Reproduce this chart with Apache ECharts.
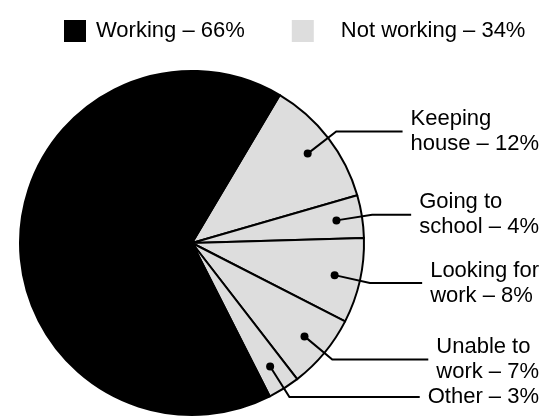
<!DOCTYPE html>
<html>
<head>
<meta charset="utf-8">
<script src="https://cdn.jsdelivr.net/npm/echarts@6/dist/echarts.min.js"></script>
<style>
html, body { margin: 0; padding: 0; background: #fff; }
#main { width: 549px; height: 417px; }
</style>
</head>
<body>
<div id="main"></div>
<script>
var groupNames = ['Working – 66%', 'Not working – 34%'];
var groupValues = [66, 34];
var partNames = ['Keeping\nhouse – 12%', 'Going to\nschool – 4%', 'Looking for\nwork – 8%', 'Unable to\nwork – 7%', 'Other – 3%'];
var partValues = [12, 4, 8, 7, 3];

var BLACK = '#000000';
var GREY = '#dddddd';
var FONT = '"Liberation Sans", Arial, sans-serif';
var FONT_SIZE = 22;
var CX = 192, CY = 243, R = 172;
var START = 59.3;   // echarts startAngle (deg, ccw from 3 o'clock)
var RIGHT_PAD = 10; // label block right edge distance from chart edge
var GAP = 8;        // leader line end to label text

var chart = echarts.init(document.getElementById('main'));
var W = chart.getWidth();

var total = groupValues[0];
partValues.forEach(function (v) { total += v; });

// middle angle of a slice, radians clockwise from 12 o'clock
function midAngle(i) {
    var before = 0;
    for (var k = 0; k < i; k++) before += partValues[k];
    var deg = (90 - START) + (before + partValues[i] / 2) / total * 360;
    return deg * Math.PI / 180;
}
function polar(a, r) {
    return [CX + r * Math.sin(a), CY - r * Math.cos(a)];
}

var ctx = document.createElement('canvas').getContext('2d');
ctx.font = FONT_SIZE + 'px ' + FONT;
function labelWidth(text) {
    var w = 0;
    text.split('\n').forEach(function (line) {
        w = Math.max(w, ctx.measureText(line).width);
    });
    return w;
}
function labelX(i) {
    return W - RIGHT_PAD - labelWidth(partNames[i]);
}

var pieData = partValues.map(function (v, i) {
    return { name: partNames[i], value: v, itemStyle: { color: GREY } };
});
pieData.push({
    name: 'Working', value: groupValues[0],
    itemStyle: { color: BLACK },
    label: { show: false }
});

// leader lines with a dot inside each slice
var guides = [];
partValues.forEach(function (v, i) {
    var a = midAngle(i);
    var dot = polar(a, R * 0.85);
    var elbow = polar(a, R * 1.06);
    guides.push({
        type: 'polyline', z: 100,
        shape: { points: [dot, elbow, [labelX(i) - GAP, elbow[1]]] },
        style: { stroke: BLACK, lineWidth: 2, fill: null }
    });
    guides.push({
        type: 'circle', z: 101,
        shape: { cx: dot[0], cy: dot[1], r: 4 },
        style: { fill: BLACK }
    });
});

var option = {
    backgroundColor: '#ffffff',
    animation: false,
    legend: {
        left: 59,
        top: 15,
        icon: 'rect',
        itemWidth: 22,
        itemHeight: 22,
        itemGap: 47,
        selectedMode: false,
        textStyle: { fontSize: FONT_SIZE, color: BLACK, fontFamily: FONT },
        data: [
            { name: groupNames[0], textStyle: { padding: [0, 0, 0, 5] } },
            { name: groupNames[1], textStyle: { padding: [0, 0, 0, 22] } }
        ]
    },
    graphic: guides,
    series: [
        {
            type: 'pie',
            center: [CX, CY],
            radius: R,
            startAngle: START,
            clockwise: true,
            avoidLabelOverlap: false,
            silent: true,
            itemStyle: { borderColor: BLACK, borderWidth: 2 },
            label: {
                show: true,
                position: 'outside',
                formatter: '{b}',
                color: BLACK,
                fontSize: FONT_SIZE,
                lineHeight: 25,
                fontFamily: FONT
            },
            labelLine: { show: false },
            labelLayout: function (p) {
                if (p.dataIndex >= partValues.length) return {};
                var elbow = polar(midAngle(p.dataIndex), R * 1.06);
                return {
                    x: labelX(p.dataIndex),
                    y: elbow[1],
                    align: 'left',
                    verticalAlign: 'middle'
                };
            },
            data: pieData
        },
        {
            // carries the two legend entries only
            type: 'pie',
            center: [CX, CY],
            radius: [0, 0],
            silent: true,
            label: { show: false },
            labelLine: { show: false },
            data: [
                { name: groupNames[0], value: groupValues[0], itemStyle: { color: BLACK } },
                { name: groupNames[1], value: groupValues[1], itemStyle: { color: GREY } }
            ]
        }
    ]
};

chart.setOption(option);
</script>
</body>
</html>
